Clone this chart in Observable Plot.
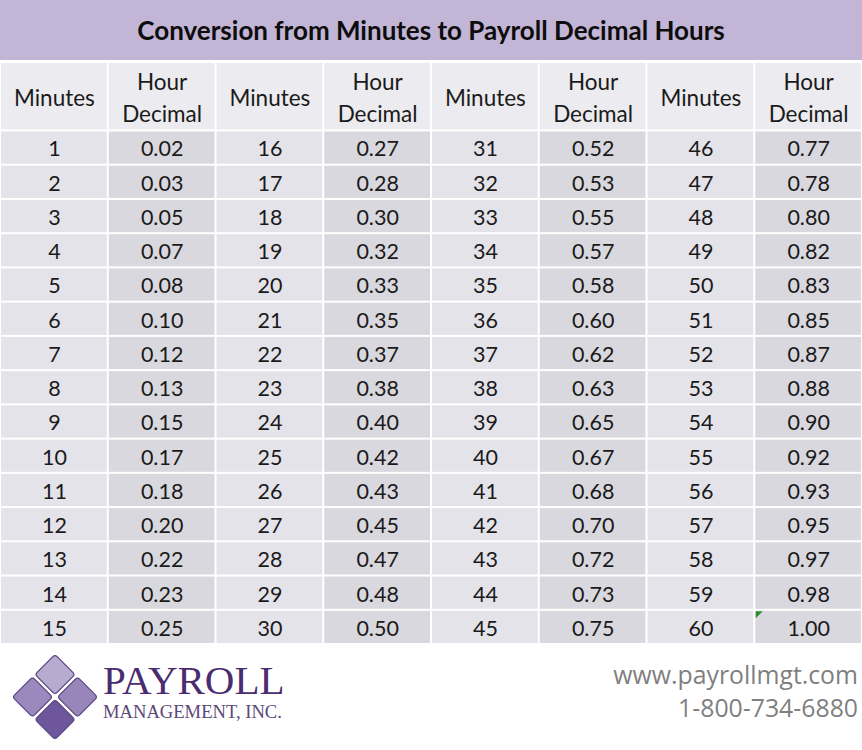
<!DOCTYPE html>
<html>
<head>
<meta charset="utf-8">
<script src="https://cdn.jsdelivr.net/npm/d3@7"></script>
<script src="https://cdn.jsdelivr.net/npm/@observablehq/plot@0.6"></script>
<style>
  html, body { margin: 0; padding: 0; background: #fff; }
  #wrap { width: 862px; font-family: Lato, "Noto Sans", sans-serif; }
  #title { height: 60px; background: #c2b5d5; color: #0d0d0d; font-weight: 700; font-size: 26px;
           display: flex; align-items: center; justify-content: center; border-bottom: 2px solid #fff; box-sizing: content-box; }
  #table svg, #logo svg { display: block; }
  #footer { position: relative; height: 106px; }
  #logo { position: absolute; left: 0; top: 0; }
  #brand { position: absolute; left: 103px; top: 16px; font-family: "Liberation Serif", "DejaVu Serif", serif; }
  #brand .big { font-size: 41px; color: #4b2c70; line-height: 40px; letter-spacing: 0px; }
  #brand .small { font-size: 18.6px; color: #5a4878; line-height: 20px; margin-top: 2px; }
  #contact { position: absolute; right: 4px; top: 14px; text-align: right; color: #7f7f7f; font-size: 24.8px; line-height: 33px; font-family: "Open Sans", Lato, sans-serif; }
</style>
</head>
<body>
<div id="wrap">
  <div id="title">Conversion from Minutes to Payroll Decimal Hours</div>
  <div id="table"></div>
  <div id="footer">
    <div id="logo"></div>
    <div id="brand"><div class="big">PAYROLL</div><div class="small">MANAGEMENT, INC.</div></div>
    <div id="contact">www.payrollmgt.com<br>1-800-734-6880</div>
  </div>
</div>
<script>
// ---- data ----
const headerLabels = ["Minutes", "Hour\nDecimal", "Minutes", "Hour\nDecimal", "Minutes", "Hour\nDecimal", "Minutes", "Hour\nDecimal"];
const minutes = [
  1, 2, 3, 4, 5, 6, 7, 8, 9, 10, 11, 12, 13, 14, 15,
  16, 17, 18, 19, 20, 21, 22, 23, 24, 25, 26, 27, 28, 29, 30,
  31, 32, 33, 34, 35, 36, 37, 38, 39, 40, 41, 42, 43, 44, 45,
  46, 47, 48, 49, 50, 51, 52, 53, 54, 55, 56, 57, 58, 59, 60
];
const decimals = [
  0.02, 0.03, 0.05, 0.07, 0.08, 0.10, 0.12, 0.13, 0.15, 0.17, 0.18, 0.20, 0.22, 0.23, 0.25,
  0.27, 0.28, 0.30, 0.32, 0.33, 0.35, 0.37, 0.38, 0.40, 0.42, 0.43, 0.45, 0.47, 0.48, 0.50,
  0.52, 0.53, 0.55, 0.57, 0.58, 0.60, 0.62, 0.63, 0.65, 0.67, 0.68, 0.70, 0.72, 0.73, 0.75,
  0.77, 0.78, 0.80, 0.82, 0.83, 0.85, 0.87, 0.88, 0.90, 0.92, 0.93, 0.95, 0.97, 0.98, 1.00
];
const rowsPerGroup = 15;
const logoTiles = [
  {gx: 0, gy: -1, shade: "#b7abd0"},
  {gx: -1, gy: 0, shade: "#9b89be"},
  {gx: 1, gy: 0, shade: "#9886bb"},
  {gx: 0, gy: 1, shade: "#6d569b"}
];

// ---- build table ----
const headerH = 2; // header spans two row units
const header = headerLabels.map((label, c) => ({c, label}));
const cells = [];
minutes.forEach((m, i) => {
  const g = Math.floor(i / rowsPerGroup), r = i % rowsPerGroup;
  cells.push({c: 2 * g, r, text: String(m), kind: "min"});
  cells.push({c: 2 * g + 1, r, text: d3.format(".2f")(decimals[i]), kind: "dec"});
});
const fmtFill = d => d.kind === "min" ? "#e5e3ea" : "#d9d8de";

const table = Plot.plot({
  width: 862, height: 582, margin: 0,
  x: {domain: [0, 8], range: [0, 862], axis: null},
  y: {domain: [0, headerH + rowsPerGroup], range: [0, 582], axis: null},
  style: {background: "#fff"},
  marks: [
    Plot.rect(header, {x1: d => d.c, x2: d => d.c + 1, y1: 0, y2: headerH, fill: "#ecebef", inset: 1}),
    Plot.rect(cells, {x1: d => d.c, x2: d => d.c + 1, y1: d => headerH + d.r, y2: d => headerH + d.r + 1, fill: fmtFill, inset: 1}),
    Plot.text(header, {x: d => d.c + 0.5, y: headerH / 2, text: "label", fontSize: 22.5, lineHeight: 1.45, fill: "#1a1a1a", fontFamily: "Lato", dy: -1}),
    Plot.text(cells, {x: d => d.c + 0.5, y: d => headerH + d.r + 0.5, text: "text", fontSize: 21.5, fill: "#1a1a1a", fontFamily: "Lato", dy: 1.5}),
    // Excel-style green corner marker on the last cell
    Plot.dot(cells.filter(d => d.text === "1.00"), {
      x: d => d.c, y: d => headerH + d.r, r: 7, fill: "#2e8b2e", stroke: "none",
      symbol: {draw(ctx, size) { const s = Math.sqrt(size / Math.PI); ctx.moveTo(1, 1); ctx.lineTo(1 + s, 1); ctx.lineTo(1, 1 + s); ctx.closePath(); }}
    })
  ]
});
document.getElementById("table").appendChild(table);

// ---- logo ----
const diamond = {
  draw(ctx, size) {
    const h = Math.sqrt(size / Math.PI), k = 3;
    const pts = [[0, -h], [h, 0], [0, h], [-h, 0]];
    const lerp = (a, b, t) => [a[0] + (b[0] - a[0]) * t, a[1] + (b[1] - a[1]) * t];
    const t = k / (h * Math.SQRT2);
    for (let i = 0; i < 4; i++) {
      const p = pts[i], prev = pts[(i + 3) % 4], next = pts[(i + 1) % 4];
      const a = lerp(p, prev, t), b = lerp(p, next, t);
      if (i === 0) ctx.moveTo(a[0], a[1]); else ctx.lineTo(a[0], a[1]);
      ctx.quadraticCurveTo(p[0], p[1], b[0], b[1]);
    }
    ctx.closePath();
  }
};
const logo = Plot.plot({
  width: 100, height: 106, margin: 0,
  x: {domain: [-1, 1], range: [32, 77], axis: null},
  y: {domain: [-1, 1], range: [30, 75], axis: null},
  marks: [
    Plot.dot(logoTiles, {x: "gx", y: "gy", r: 20, fill: "shade", stroke: "#5b4784", strokeWidth: 1.3, symbol: diamond})
  ]
});
document.getElementById("logo").appendChild(logo);
</script>
</body>
</html>
